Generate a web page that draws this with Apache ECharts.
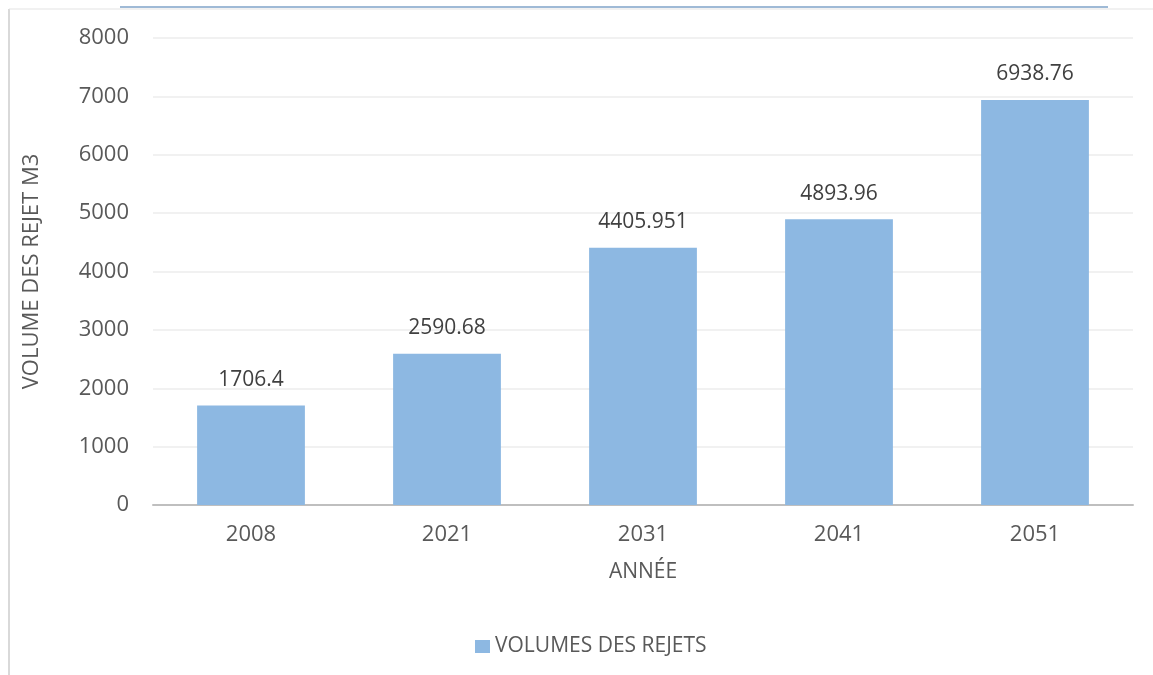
<!DOCTYPE html>
<html>
<head>
<meta charset="utf-8">
<script src="https://cdn.jsdelivr.net/npm/echarts@6/dist/echarts.min.js"></script>
<style>
  html, body { margin: 0; padding: 0; background: #fff; }
  #chart { width: 1153px; height: 675px; }
</style>
</head>
<body>
<div id="chart"></div>
<script>
const years = ['2008', '2021', '2031', '2041', '2051'];
const volumes = [1706.4, 2590.68, 4405.951, 4893.96, 6938.76];
const seriesName = 'VOLUMES DES REJETS';

const FONT = '"Open Sans", sans-serif';
const TEXT = '#595959';

const chart = echarts.init(document.getElementById('chart'));
chart.setOption({
  animation: false,
  grid: { left: 153, right: 20, top: 38, bottom: 170 },
  legend: {
    left: 470,
    top: 631,
    icon: 'rect',
    itemWidth: 15,
    itemHeight: 13,
    itemGap: 20,
    textStyle: { color: TEXT, fontSize: 21, fontFamily: FONT },
    data: [seriesName],
  },
  xAxis: {
    type: 'category',
    data: years,
    name: 'ANNÉE',
    nameLocation: 'middle',
    nameGap: 57,
    nameTextStyle: { color: TEXT, fontSize: 21, fontFamily: FONT },
    axisLine: { lineStyle: { color: '#bfbfbf', width: 2 } },
    axisTick: { show: false },
    axisLabel: { color: TEXT, fontSize: 22, fontFamily: FONT, margin: 19 },
  },
  yAxis: {
    type: 'value',
    min: 0,
    max: 8000,
    interval: 1000,
    name: 'VOLUME DES REJET M3',
    nameLocation: 'middle',
    nameGap: 110,
    nameTextStyle: { color: TEXT, fontSize: 22, fontFamily: FONT },
    axisLine: { show: false },
    axisTick: { show: false },
    axisLabel: { color: TEXT, fontSize: 22, fontFamily: FONT, margin: 24, formatter: (v) => String(v) },
    splitLine: { lineStyle: { color: '#ededed', width: 1.5 } },
  },
  series: [{
    name: seriesName,
    type: 'bar',
    data: volumes,
    barWidth: '55%',
    itemStyle: { color: '#8db8e2' },
    label: {
      show: true,
      position: 'top',
      distance: 15,
      color: '#404040',
      fontSize: 21,
      fontFamily: FONT,
    },
  }],
  graphic: [
    { type: 'line', shape: { x1: 9, y1: 9, x2: 9, y2: 675 }, style: { stroke: '#d9d9d9', lineWidth: 2 } },
    { type: 'line', shape: { x1: 9, y1: 9, x2: 1153, y2: 9 }, style: { stroke: '#e3e3e3', lineWidth: 1 } },
    { type: 'line', shape: { x1: 120, y1: 7, x2: 1108, y2: 7 }, style: { stroke: '#7fa3c8', lineWidth: 1.5 } },
  ],
});
</script>
</body>
</html>
